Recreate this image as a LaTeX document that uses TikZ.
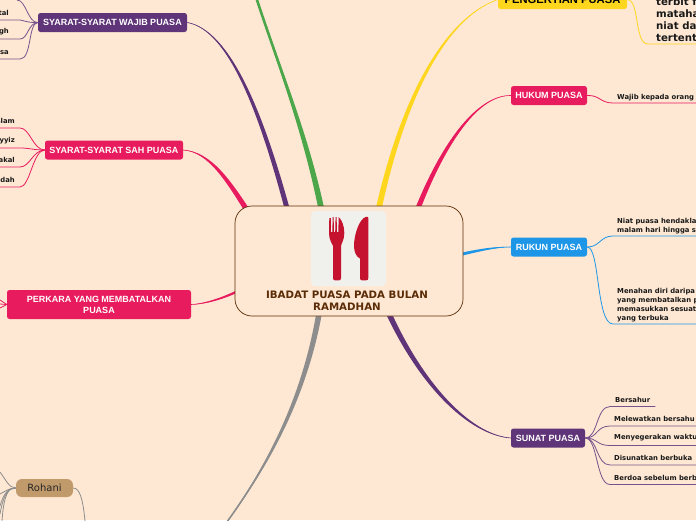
\documentclass[tikz,border=0pt]{standalone}
\usepackage{fontspec}
\setmainfont{DejaVu Sans}
\newfontfamily\topicfont{Liberation Sans}
\usepackage{xcolor}
\usetikzlibrary{calc, backgrounds}

\definecolor{pagebg}{HTML}{FEE8D3}
\definecolor{rootline}{HTML}{5B2C06}
\definecolor{ungu}{HTML}{5F3478}
\definecolor{merah}{HTML}{E91B5F}
\definecolor{biru}{HTML}{1E96E8}
\definecolor{kuning}{HTML}{FFD61E}
\definecolor{hijau}{HTML}{4CA64A}
\definecolor{kelabu}{HTML}{8D8D8D}
\definecolor{coklat}{HTML}{C19A6B}
\definecolor{sudu}{HTML}{C5122F}
\definecolor{ikon}{HTML}{F0F0EC}

% tapered limb: colour, from, first control, second control, to, half width offset
\newcommand{\limb}[6]{%
  \fill[#1] (#2) .. controls ($(#3)+0.45*(#6)$) and ($(#4)+0.8*(#6)$) .. ($(#5)+(#6)$)
    -- ($(#5)-(#6)$) .. controls ($(#4)-0.8*(#6)$) and ($(#3)-0.45*(#6)$) .. (#2) -- cycle;
  \draw[#1, line width=0.6pt] (#2) .. controls (#3) and (#4) .. (#5);
}

\begin{document}
\begin{tikzpicture}[
    x=1pt, y=-1pt,
    topic/.style={rounded corners=2.5pt, align=center, text=white,
                  font=\topicfont\bfseries\fontsize{9}{11}\selectfont,
                  inner sep=0pt},
    leaf/.style={anchor=south west, align=left, inner xsep=4pt, inner ysep=2.2pt,
                 font=\bfseries\fontsize{6.85}{9}\selectfont, text=black!90},
    leftleaf/.style={anchor=south east, align=right, inner ysep=4pt,
                 font=\bfseries\fontsize{6.85}{9}\selectfont, text=black!90},
    twig/.style={line width=0.8pt},
  ]

  \useasboundingbox (0,0) rectangle (696,520);

  % Root and main topics
  \node[draw=rootline, line width=0.7pt, fill=pagebg, rounded corners=17pt,
        minimum width=228pt, minimum height=110pt] (root) at (349,261) {};
  \node[fill=ikon, rounded corners=4pt, minimum size=75pt, inner sep=0pt] (icon) at (348.5,248.5) {};
  \node[align=center, text=rootline, inner sep=0pt, font=\bfseries\fontsize{10.25}{12}\selectfont]
    (title) at (347,300.5) {IBADAT PUASA PADA BULAN\\RAMADHAN};

  \node[topic, fill=ungu, minimum width=149pt, minimum height=19pt] (wajib) at (112.5,22.5) {SYARAT-SYARAT WAJIB PUASA};
  \node[topic, fill=merah, minimum width=138pt, minimum height=19pt] (sah) at (114,150) {SYARAT-SYARAT SAH PUASA};
  \node[topic, fill=merah, minimum width=184pt, minimum height=29pt] (batal) at (99,304.5) {PERKARA YANG MEMBATALKAN\\PUASA};
  \node[rounded corners=6pt, fill=coklat, minimum width=57pt, minimum height=18pt, inner sep=0pt,
        text=black!85, font=\fontsize{10}{12}\selectfont] (rohani) at (44.5,488) {Rohani};
  \node[topic, fill=kuning, text=black, minimum width=129pt, minimum height=19pt,
        font=\topicfont\bfseries\fontsize{11.2}{12}\selectfont] (takrif) at (562.5,-0.5) {PENGERTIAN PUASA};
  \node[topic, fill=merah, minimum width=76pt, minimum height=19pt] (hukum) at (549,95.5) {HUKUM PUASA};
  \node[topic, fill=biru, minimum width=76pt, minimum height=19pt] (rukun) at (549,247) {RUKUN PUASA};
  \node[topic, fill=ungu, minimum width=74pt, minimum height=19pt] (sunat) at (548,438) {SUNAT PUASA};

  % Free ends past the page
  \coordinate (hijauend) at (255,-6);
  \coordinate (kelabuend) at (224,526);

  % Leaves
  \node[leftleaf, inner xsep=11pt] (w1) at (20,20) {tal};
  \node[leftleaf, inner xsep=11pt] (w2) at (20,39) {gh};
  \node[leftleaf, inner xsep=11pt] (w3) at (20,59) {sa};
  \coordinate (w0) at (17,0);

  \node[leftleaf, inner xsep=5pt] (s1) at (20,128) {slam};
  \node[leftleaf, inner xsep=5pt] (s2) at (20,148) {yyiz};
  \node[leftleaf, inner xsep=5pt] (s3) at (20,167) {akal};
  \node[leftleaf, inner xsep=5pt] (s4) at (20,187) {dah};

  \node[leaf] (h1) at (613,103) {Wajib kepada orang};
  \node[leaf] (r1) at (613,236) {Niat puasa hendakla\\malam hari hingga s};
  \node[leaf] (r2) at (613,324) {Menahan diri daripa\\yang membatalkan p\\memasukkan sesuat\\yang terbuka};
  \node[leaf, inner ysep=4pt, minimum width=45pt] (t1) at (610,406.5) {Bersahur};
  \node[leaf, inner ysep=4pt] (t2) at (610,426) {Melewatkan bersahu};
  \node[leaf, inner ysep=4pt] (t3) at (610,445.5) {Menyegerakan waktu};
  \node[leaf, inner ysep=4pt] (t4) at (610,465) {Disunatkan berbuka};
  \node[leaf, inner ysep=4pt] (t5) at (610,484.5) {Berdoa sebelum berb};
  \node[leaf, font=\bfseries\fontsize{10.2}{12}\selectfont, inner xsep=8pt] (p1) at (648,44) {terbit f\\mataha\\niat da\\tertent};

  \begin{scope}[on background layer]
    \fill[pagebg] (0,0) rectangle (696,520);

    % Limbs
    \limb{ungu}{wajib.east}{230,30}{262,115}{288,212}{2.6,0}
    \limb{merah}{sah.east}{210,152}{228,180}{252,218}{2.6,-1}
    \limb{merah}{batal.east}{205,304}{225,298}{242,289}{0,1.4}
    \draw[hijau, line width=2.6pt] (hijauend) .. controls (280,70) and (305,130) .. (322,212);
    \limb{hijau}{hijauend}{280,70}{305,130}{322,212}{3,0}
    \limb{kuning}{takrif.west}{440,20}{400,110}{378,212}{3,0}
    \limb{merah}{hukum.west}{475,95}{440,150}{415,216}{2.8,0}
    \limb{biru}{rukun.west}{495,247}{480,250}{458,255}{0,1.6}
    \limb{ungu}{sunat.west}{470,435}{420,385}{385,305}{2.6,-1}
    \draw[kelabu, line width=1.6pt] (kelabuend) .. controls (265,470) and (305,400) .. (320,308);
    \limb{kelabu}{kelabuend}{265,470}{305,400}{320,308}{2.9,0}
  \end{scope}

  % Twigs
  \draw[ungu!85, twig] (wajib.west) .. controls (28,23) and (26,0) .. (w0);
  \foreach \n/\c/\y in {w1/22/20, w2/28/39, w3/32/59}
    \draw[ungu!85, twig] (wajib.west) .. controls (28,23) and (\c,\y) .. (\n.south east) -- (\n.south west);

  \foreach \n/\y in {s1/128, s2/148, s3/167, s4/187}
    \draw[merah, twig] (sah.west) .. controls (33,150) and (30,\y) .. (\n.south east) -- (\n.south west);

  \draw[merah, twig] (hukum.east) .. controls (600,95) and (600,103) .. (h1.south west) -- (h1.south east);
  \draw[biru, twig] (rukun.east) .. controls (600,247) and (600,236) .. (r1.south west) -- (r1.south east);
  \draw[biru, twig] (rukun.east) .. controls (600,247) and (596,324) .. (r2.south west) -- (r2.south east);

  \foreach \n/\y in {t1/406.5, t2/426, t3/445.5, t4/465, t5/484.5}
    \draw[ungu!85, twig] (sunat.east) .. controls (598,438) and (596,\y) .. (\n.south west) -- (\n.south east);

  \draw[kuning, twig] (takrif.east) .. controls (640,0) and (634,44) .. (p1.south west) -- (p1.south east);

  % Loose ends on the left and under Rohani
  \coordinate (b1) at (0,300);
  \coordinate (b2) at (0,304);
  \coordinate (b3) at (0,308);
  \foreach \n in {b1, b2, b3}
    \draw[merah, twig] (batal.west) -- (\n);

  \coordinate (k1) at (0,472);
  \coordinate (k2) at (0,494);
  \coordinate (k3) at (0,506);
  \coordinate (k4) at (0,514);
  \coordinate (k5) at (2,521);
  \coordinate (k6) at (85,521);
  \draw[kelabu, twig] (rohani.west) .. controls (9,488) and (6,480) .. (k1);
  \foreach \n in {k2, k3, k4, k5}
    \draw[kelabu, twig] (rohani.west) .. controls (9,488) and (4,492) .. (\n);
  \draw[kelabu, twig] (rohani.east) .. controls (80,488) and (83,500) .. (k6);

  % Fork and knife
  \fill[sudu] (329.3,218) -- (330.8,218) -- (331,232) -- (332.4,232) -- (332.6,217) -- (333.6,217)
    -- (334,232) -- (335.2,232) -- (335.6,217) -- (336.6,217) -- (337,232) -- (338.4,232)
    -- (338.6,217) .. controls (342,220) and (344.3,226) .. (344.3,233)
    .. controls (344.3,240) and (341.5,243) .. (341,246) -- (341,278)
    .. controls (341,280) and (340,280.3) .. (339,280.3) -- (335,280.3)
    .. controls (334,280.3) and (333,280) .. (333,278) -- (333,246)
    .. controls (332,243) and (329,240) .. (329,233) -- cycle;
  \fill[sudu] (368.3,218) .. controls (368.3,217) and (367,216.5) .. (366,216.8)
    .. controls (359,219) and (354,235) .. (354,246)
    .. controls (354,251) and (356,257) .. (360,258.5)
    -- (360,278) .. controls (360,280) and (361,280.3) .. (362,280.3) -- (366,280.3)
    .. controls (367.5,280.3) and (368.3,280) .. (368.3,278) -- cycle;
\end{tikzpicture}
\end{document}
